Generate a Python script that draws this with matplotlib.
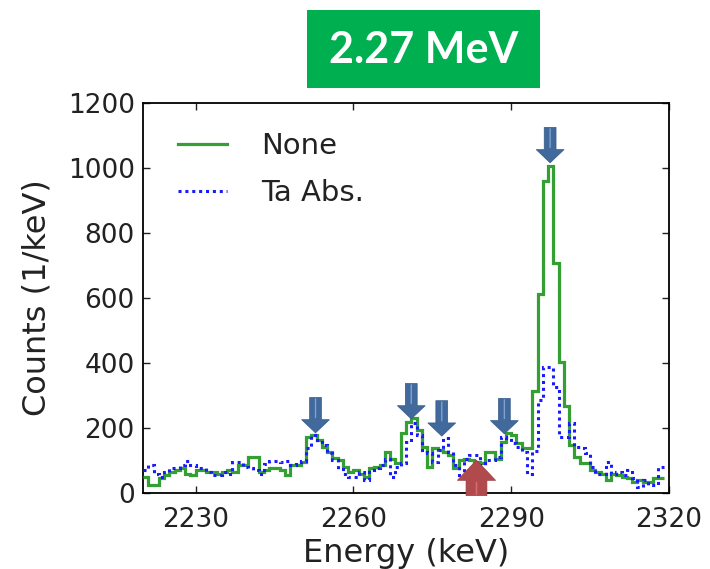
import numpy as np
import matplotlib
matplotlib.use("Agg")
import matplotlib.pyplot as plt
from matplotlib.patches import Rectangle

# Spectrum binning (1 keV bins, left edges from 2220 keV)
bin_start = 2220
bin_width = 1.0

counts_none = [
    50, 25, 25, 45, 55, 65, 70, 76, 60, 55,
    70, 70, 65, 65, 60, 65, 70, 65, 86, 86,
    110, 110, 65, 70, 76, 76, 70, 55, 86, 86,
    96, 173, 178, 163, 143, 127, 107, 101, 81, 65,
    70, 60, 50, 76, 81, 86, 127, 106, 91, 184,
    219, 230, 194, 143, 81, 137, 132, 127, 117, 76,
    101, 106, 101, 96, 91, 127, 127, 106, 158, 184,
    178, 153, 137, 137, 315, 612, 960, 1006, 709, 404,
    268, 148, 112, 91, 91, 71, 66, 60, 40, 60,
    55, 50, 45, 35, 40, 35, 35, 45, 45,
]

counts_ta = [
    70, 86, 60, 50, 65, 76, 76, 86, 100, 86,
    76, 76, 65, 55, 55, 65, 60, 96, 96, 80,
    76, 70, 60, 90, 100, 100, 96, 100, 86, 90,
    100, 137, 178, 158, 148, 122, 101, 75, 60, 50,
    50, 65, 40, 70, 76, 86, 106, 50, 80, 91,
    158, 214, 178, 127, 122, 96, 132, 168, 127, 86,
    50, 106, 117, 117, 86, 101, 101, 112, 173, 168,
    153, 143, 127, 60, 130, 286, 389, 389, 327, 173,
    173, 214, 143, 137, 122, 81, 60, 60, 96, 60,
    66, 55, 71, 45, 19, 40, 25, 25, 81,
]

series_labels = ["None", "Ta Abs."]
x_ticks = [2230, 2260, 2290, 2320]
y_ticks = [0, 200, 400, 600, 800, 1000, 1200]
x_limits = (2220, 2320)
y_limits = (0, 1200)

# Peak markers: (energy keV, counts at arrow tip)
peak_markers = [(2252.8, 185), (2271.0, 228), (2276.8, 175), (2288.7, 182), (2297.4, 1016)]
# Suppressed line marker (arrow pointing up)
missing_marker = (2283.4, 101)

title_text = "2.27 MeV"

plt.rcParams["font.family"] = ["DejaVu Sans"]

fig = plt.figure(figsize=(7.10, 5.69), dpi=100)
ax = fig.add_axes([143 / 710, 1 - 493 / 569, 526 / 710, 390 / 569])

edges_none = bin_start + bin_width * np.arange(len(counts_none) + 1)
edges_ta = bin_start + bin_width * np.arange(len(counts_ta) + 1)

ax.stairs(counts_none, edges_none, color="#34a034", lw=2.3, label=series_labels[0],
          baseline=None, zorder=3)
ax.stairs(counts_ta, edges_ta, color="#1a1aff", lw=2.2, ls=(0, (1, 1.25)),
          label=series_labels[1], baseline=None, zorder=4)

ax.set_xlim(*x_limits)
ax.set_ylim(*y_limits)
ax.set_xticks(x_ticks)
ax.set_yticks(y_ticks)
ax.tick_params(direction="in", top=True, right=True, length=5, width=1,
               labelsize=19, colors="#222222", labelcolor="#222222")
ax.tick_params(axis="x", pad=10)
ax.tick_params(axis="y", pad=6)
for sp in ax.spines.values():
    sp.set_linewidth(1.3)
    sp.set_color("black")

ax.set_xlabel("Energy (keV)", fontsize=23, color="#222222", labelpad=4)
ax.set_ylabel("Counts (1/keV)", fontsize=23, color="#222222", labelpad=11)

leg = ax.legend(loc="upper left", bbox_to_anchor=(0.066, 0.925), frameon=False,
                fontsize=21, handlelength=1.7, handletextpad=1.15, labelspacing=0.65,
                borderaxespad=0, borderpad=0)
for t in leg.get_texts():
    t.set_color("#222222")

# Downward arrows above the identified peaks
blue_face = "#41699c"
for ex, cy in peak_markers:
    ax.annotate("", xy=(ex, cy), xytext=(0, 25.5), textcoords="offset points",
                arrowprops=dict(arrowstyle="simple,head_length=0.95,head_width=2.0,tail_width=0.85",
                                fc=blue_face, ec="#36598a", lw=0.5, shrinkA=0, shrinkB=0,
                                mutation_scale=10),
                zorder=6, annotation_clip=False)
    ax.annotate("", xy=(ex, cy), xytext=(0, 24.5), textcoords="offset points",
                arrowprops=dict(arrowstyle="-", color="#7fa3cf", lw=1.0,
                                shrinkA=0, shrinkB=11),
                zorder=7, annotation_clip=False)

# Upward arrow below the suppressed line
mx, my = missing_marker
ax.annotate("", xy=(mx, my), xytext=(0, -25.5), textcoords="offset points",
            arrowprops=dict(arrowstyle="simple,head_length=1.45,head_width=2.75,tail_width=1.5",
                            fc="#b04a4c", ec="#9a3d40", lw=0.5, shrinkA=0, shrinkB=0,
                            mutation_scale=10),
            zorder=6, annotation_clip=False)
ax.annotate("", xy=(mx, my), xytext=(0, -24.5), textcoords="offset points",
            arrowprops=dict(arrowstyle="-", color="#d46a6c", lw=1.2,
                            shrinkA=0, shrinkB=16),
            zorder=7, annotation_clip=False)

# Energy banner
fig.patches.append(Rectangle((307 / 710, 1 - 88 / 569), 233 / 710, 78 / 569,
                             transform=fig.transFigure, facecolor="#00b050",
                             edgecolor="none", zorder=0))
fig.text(423.5 / 710, 1 - 50 / 569, title_text, color="white", fontsize=31,
         fontweight="bold", family=["Lato", "DejaVu Sans"], ha="center", va="center")

fig.savefig("out.png", dpi=100, facecolor="white")
